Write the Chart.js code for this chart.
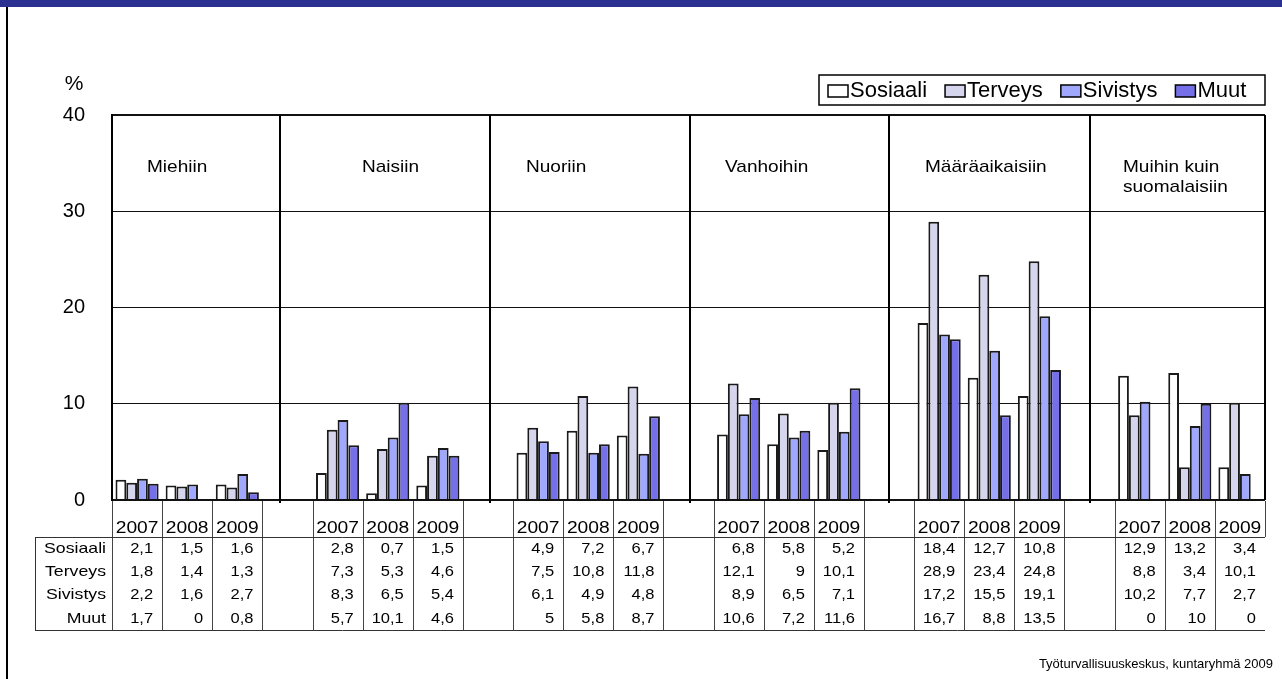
<!DOCTYPE html>
<html>
<head>
<meta charset="utf-8">
<title>Kuntaryhmä 2009</title>
<script src="https://cdn.jsdelivr.net/npm/chart.js@4.4.0/dist/chart.umd.min.js"></script>
<style>
  html, body { margin: 0; padding: 0; background: #fff; }
  #wrap { position: absolute; left: 0; top: 0; width: 1282px; height: 679px; }
</style>
</head>
<body>
<div id="wrap"><canvas id="chart" width="1282" height="679"></canvas></div>
<script>
// ===== DATA =====
const groups = ['Miehiin', 'Naisiin', 'Nuoriin', 'Vanhoihin', 'Määräaikaisiin', 'Muihin kuin\nsuomalaisiin'];
const years = ['2007', '2008', '2009'];
const seriesNames = ['Sosiaali', 'Terveys', 'Sivistys', 'Muut'];
const sosiaali = [2.1, 1.5, 1.6, 2.8, 0.7, 1.5, 4.9, 7.2, 6.7, 6.8, 5.8, 5.2, 18.4, 12.7, 10.8, 12.9, 13.2, 3.4];
const terveys  = [1.8, 1.4, 1.3, 7.3, 5.3, 4.6, 7.5, 10.8, 11.8, 12.1, 9, 10.1, 28.9, 23.4, 24.8, 8.8, 3.4, 10.1];
const sivistys = [2.2, 1.6, 2.7, 8.3, 6.5, 5.4, 6.1, 4.9, 4.8, 8.9, 6.5, 7.1, 17.2, 15.5, 19.1, 10.2, 7.7, 2.7];
const muut     = [1.7, 0, 0.8, 5.7, 10.1, 4.6, 5, 5.8, 8.7, 10.6, 7.2, 11.6, 16.7, 8.8, 13.5, 0, 10, 0];
const yTicks = [0, 10, 20, 30, 40];
const source = 'Työturvallisuuskeskus, kuntaryhmä 2009';

// ===== STYLE / LAYOUT =====
const colors = ['#ffffff', '#d5d5ed', '#a0a8fe', '#7670e8'];
const FONT = '"Liberation Sans", Arial, sans-serif';
const dividerSlots = [3.35, 7.54, 11.53, 15.5, 19.51];   // group separators, in slot units
const groupLabelX = [147, 362, 526, 725, 925, 1123];

// one slot per year, a blank slot between groups
const categories = [];
groups.forEach(function (g, gi) {
    years.forEach(function (y) { categories.push(y); });
    if (gi < groups.length - 1) categories.push('');
});

function toSlots(vals) {
    const out = [];
    groups.forEach(function (g, gi) {
        for (let i = 0; i < years.length; i++) out.push(vals[gi * years.length + i]);
        if (gi < groups.length - 1) out.push(null);
    });
    return out;
}

const seriesValues = [sosiaali, terveys, sivistys, muut];

function txt(ctx, s, x, y, size, align, sx) {
    ctx.save();
    ctx.font = size + 'px ' + FONT;
    ctx.fillStyle = '#000';
    ctx.textAlign = align;
    ctx.textBaseline = 'middle';
    ctx.translate(x, y);
    ctx.scale(sx || 1, 1);
    ctx.fillText(s, 0, 0);
    ctx.restore();
}

function line(ctx, x1, y1, x2, y2, w, c) {
    ctx.save();
    ctx.strokeStyle = c;
    ctx.lineWidth = w;
    ctx.beginPath();
    ctx.moveTo(x1, y1);
    ctx.lineTo(x2, y2);
    ctx.stroke();
    ctx.restore();
}

// ===== DECORATION: frame, group labels, legend, data table =====
const decor = {
    id: 'decor',
    afterDraw: function (chart) {
        const ctx = chart.ctx;
        const area = chart.chartArea;
        const xs = chart.scales.x;
        const slotW = (area.right - area.left) / categories.length;

        // frame
        ctx.fillStyle = '#2b3190';
        ctx.fillRect(0, 0, chart.width, 7);
        line(ctx, 7, 7, 7, chart.height, 2, '#000');

        // plot box right edge + group separators
        line(ctx, area.right, area.top, area.right, area.bottom, 2, '#000');
        dividerSlots.forEach(function (u) {
            const x = Math.round(area.left + u * slotW);
            line(ctx, x, area.top, x, area.bottom + 3, 2, '#000');
        });

        // group names
        groups.forEach(function (g, i) {
            g.split('\n').forEach(function (part, j) {
                txt(ctx, part, groupLabelX[i], 167 + j * 20, 17, 'left', 1.12);
            });
        });

        // % label
        txt(ctx, '%', 74, 84, 20, 'center', 1.05);

        // legend
        const lx0 = 819, ly0 = 75, lx1 = 1265, ly1 = 105;
        ctx.save();
        ctx.strokeStyle = '#000';
        ctx.lineWidth = 1.5;
        ctx.strokeRect(lx0, ly0, lx1 - lx0, ly1 - ly0);
        ctx.restore();
        let lx = 828;
        ctx.font = '22px ' + FONT;
        seriesNames.forEach(function (name, i) {
            ctx.save();
            ctx.fillStyle = colors[i];
            ctx.fillRect(lx, 85, 20, 12);
            ctx.strokeStyle = '#000';
            ctx.lineWidth = 1.5;
            ctx.strokeRect(lx, 85, 20, 12);
            ctx.restore();
            txt(ctx, name, lx + 22, 91, 22, 'left', 1);
            ctx.font = '22px ' + FONT;
            lx += 22 + ctx.measureText(name).width + 18;
        });

        // data table
        const tTop = area.bottom + 1, tHead = 537, tBot = 630, tLeft = 35;
        const rowH = (tBot - tHead) / seriesNames.length;
        for (let k = 0; k <= categories.length; k++) {
            const x = Math.round(area.left + k * slotW) + 0.5;
            const yEnd = k === categories.length ? tHead : tBot;
            line(ctx, x, tTop, x, yEnd, 1, '#444');
        }
        line(ctx, tLeft, tHead + 0.5, area.right, tHead + 0.5, 1, '#333');
        line(ctx, tLeft, tBot + 0.5, area.right, tBot + 0.5, 1, '#333');
        line(ctx, tLeft + 0.5, tHead, tLeft + 0.5, tBot, 1, '#333');

        categories.forEach(function (c, k) {
            if (!c) return;
            const cx = xs.getPixelForValue(k);
            txt(ctx, c, cx, 529, 16, 'center', 1.2);
        });
        chart.data.datasets.forEach(function (ds, r) {
            const cy = tHead + rowH * (r + 0.5);
            txt(ctx, ds.label, area.left - 6, cy, 15, 'right', 1.18);
            ds.data.forEach(function (v, k) {
                if (v === null) return;
                const xr = area.left + (k + 1) * slotW - 9;
                txt(ctx, String(v).replace('.', ','), xr, cy, 15, 'right', 1.1);
            });
        });

        // source
        txt(ctx, source, 1273, 664, 13, 'right', 1.0);
    }
};

const ctx = document.getElementById('chart').getContext('2d');

new Chart(ctx, {
    type: 'bar',
    data: {
        labels: categories,
        datasets: seriesNames.map(function (name, i) {
            return {
                label: name,
                data: toSlots(seriesValues[i]),
                backgroundColor: colors[i],
                borderColor: '#1a1a1a',
                borderWidth: 2,
                categoryPercentage: 0.86,
                barPercentage: 1.0
            };
        })
    },
    options: {
        responsive: false,
        animation: false,
        devicePixelRatio: 1,
        layout: { padding: { top: 115, bottom: 179, left: 0, right: 17 } },
        plugins: {
            legend: { display: false },
            tooltip: { enabled: false }
        },
        scales: {
            x: { display: false },
            y: {
                min: 0,
                max: 40,
                afterFit: function (scale) { scale.width = 112; },
                afterBuildTicks: function (scale) {
                    scale.ticks = yTicks.map(function (v) { return { value: v }; });
                },
                ticks: {
                    padding: 27,
                    color: '#000',
                    font: { family: FONT, size: 20 }
                },
                grid: {
                    drawTicks: false,
                    color: '#111',
                    lineWidth: function (c) {
                        return (c.tick && (c.tick.value === 0 || c.tick.value === 40)) ? 2 : 1;
                    }
                },
                border: { display: true, color: '#000', width: 2 }
            }
        }
    },
    plugins: [decor]
});
</script>
</body>
</html>
